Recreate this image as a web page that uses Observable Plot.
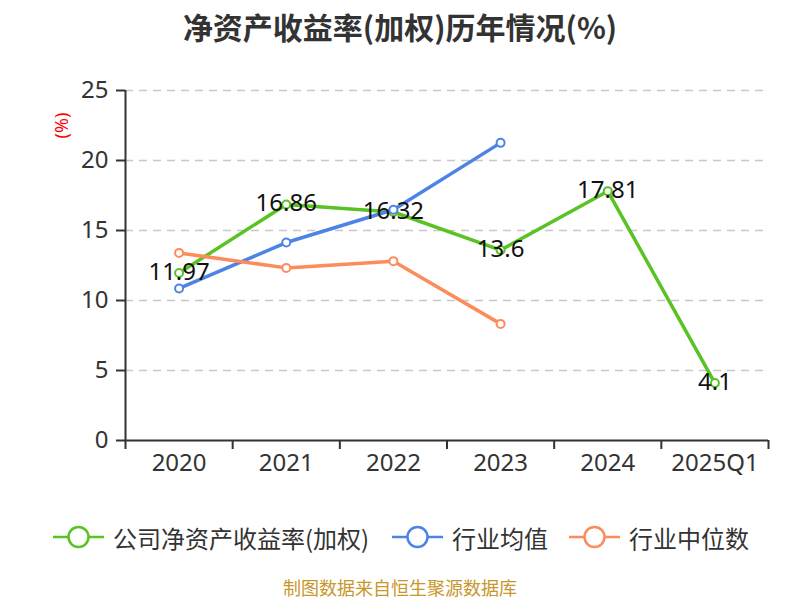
<!DOCTYPE html>
<html>
<head>
<meta charset="utf-8">
<script src="https://cdn.jsdelivr.net/npm/d3@7"></script>
<script src="https://cdn.jsdelivr.net/npm/@observablehq/plot@0.6"></script>
<style>
  html, body { margin: 0; padding: 0; background: #fff; }
  body { width: 800px; height: 600px; position: relative; overflow: hidden;
         font-family: "Noto Sans", "Noto Sans CJK SC", sans-serif; }
  #title { position: absolute; top: 4px; left: 0; width: 800px; text-align: center;
           font-size: 30px; font-weight: bold; color: #333; font-family: "Noto Sans CJK SC", "Noto Sans", sans-serif; }
  #chart { position: absolute; top: 50px; left: 0; }
  #legend { position: absolute; top: 520px; left: 0; width: 800px; height: 34px; }
  .item { position: absolute; top: 0; height: 34px; display: flex; align-items: center;
          font-size: 24px; color: #333; font-family: "Noto Sans CJK SC", "Noto Sans", sans-serif; }
  .item svg { margin-right: 9px; }
  #caption { position: absolute; top: 577px; left: 0; width: 800px; text-align: center;
             font-size: 18px; color: #c9962b; font-family: "Noto Sans CJK SC", sans-serif; line-height: 20px; }
</style>
</head>
<body>
<div id="title">净资产收益率(加权)历年情况(%)</div>
<div id="chart"></div>
<div id="legend"></div>
<div id="caption">制图数据来自恒生聚源数据库</div>
<script>
const categories = ["2020", "2021", "2022", "2023", "2024", "2025Q1"];
const companyROE = [11.97, 16.86, 16.32, 13.6, 17.81, 4.1];
const industryAvg = [10.86, 14.14, 16.48, 21.26, null, null];
const industryMedian = [13.4, 12.33, 12.81, 8.33, null, null];
const yTicks = [0, 5, 10, 15, 20, 25];
const seriesNames = ["公司净资产收益率(加权)", "行业均值", "行业中位数"];
const colors = ["#58c322", "#4e83e6", "#fd8c5c"];

const toRows = (vals) => vals.map((v, i) => ({i, cat: categories[i], v})).filter(d => d.v != null);
const green = toRows(companyROE);
const blue = toRows(industryAvg);
const orange = toRows(industryMedian);

const centers = categories.map((_, i) => i + 0.5);
const bounds = d3.range(categories.length + 1);

const lineFor = (data, c) => [
  Plot.line(data, {x: d => d.i + 0.5, y: "v", stroke: c, strokeWidth: 3.5}),
  Plot.dot(data, {x: d => d.i + 0.5, y: "v", r: 4, fill: "white", stroke: c, strokeWidth: 2})
];

const chart = Plot.plot({
  width: 800,
  height: 450,
  marginTop: 40,
  marginBottom: 60,
  marginLeft: 125,
  marginRight: 32,
  style: {fontFamily: '"Noto Sans", "Noto Sans CJK SC", sans-serif', background: "transparent"},
  x: {type: "linear", domain: [0, categories.length]},
  y: {domain: [0, 25]},
  marks: [
    Plot.ruleY(yTicks.filter(t => t > 0), {stroke: "#c8c8c8", strokeWidth: 1.5, strokeDasharray: "8,6"}),
    Plot.axisY({ticks: yTicks, tickSize: 9, tickPadding: 8, fontSize: 24, color: "#333", stroke: "#333", strokeWidth: 2, label: null}),
    Plot.axisX({ticks: bounds, tickSize: 9, tickFormat: () => "", stroke: "#333", strokeWidth: 2, label: null}),
    Plot.axisX({ticks: centers, tickSize: 0, tickPadding: 13, fontSize: 24, color: "#333", tickFormat: d => categories[Math.floor(d)], label: null}),
    Plot.ruleX([0], {y1: 0, y2: 25, stroke: "#333", strokeWidth: 2}),
    Plot.ruleY([0], {stroke: "#333", strokeWidth: 2}),
    Plot.text(["(%)"], {frameAnchor: "top-left", dx: -63, dy: 35, rotate: -90, textAnchor: "middle", lineAnchor: "middle", fill: "red", fontSize: 18}),
    ...lineFor(green, colors[0]),
    ...lineFor(blue, colors[1]),
    ...lineFor(orange, colors[2]),
    Plot.text(green, {x: d => d.i + 0.5, y: "v", text: d => String(d.v), fontSize: 24, fill: "#111", dy: -1})
  ]
});
document.getElementById("chart").appendChild(chart);

// legend
const legend = document.getElementById("legend");
const lefts = [53, 392, 569];
seriesNames.forEach((name, k) => {
  const item = document.createElement("div");
  item.className = "item";
  item.style.left = lefts[k] + "px";
  item.innerHTML = `<svg width="51" height="26"><line x1="0" y1="13" x2="51" y2="13" stroke="${colors[k]}" stroke-width="2.5"/><circle cx="25.5" cy="13" r="10" fill="white" stroke="${colors[k]}" stroke-width="2.5"/></svg><span>${name}</span>`;
  legend.appendChild(item);
});
</script>
</body>
</html>
